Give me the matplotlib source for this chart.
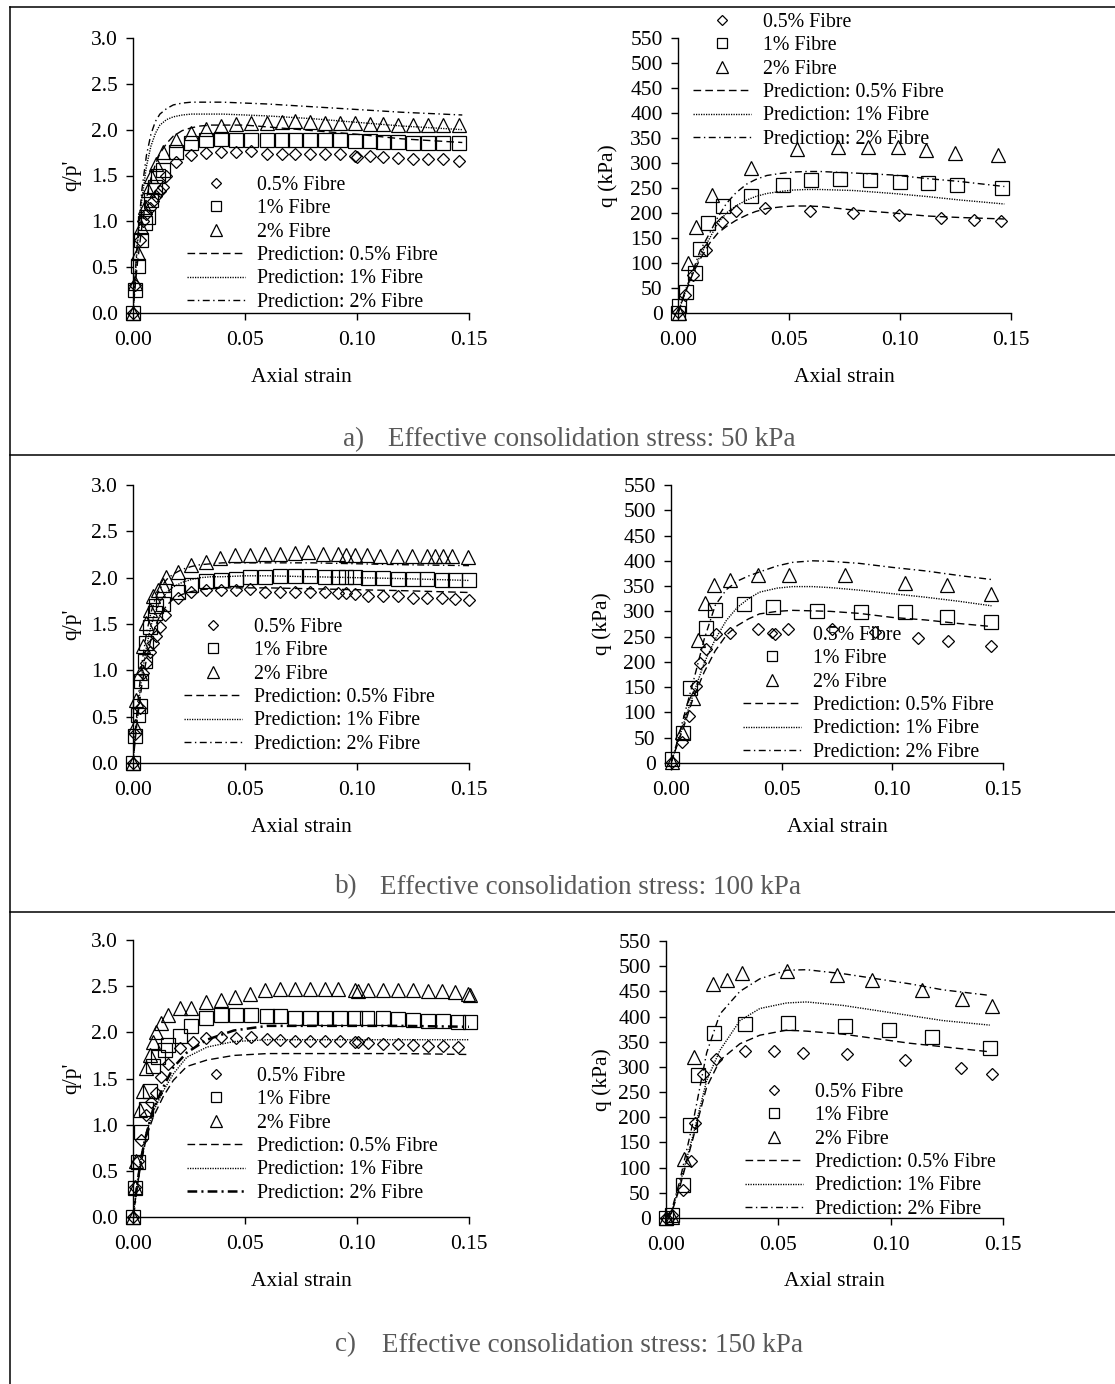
import matplotlib
matplotlib.use("Agg")
import matplotlib.pyplot as plt
from matplotlib.lines import Line2D

plt.rcParams['font.family'] = ['Liberation Serif', 'DejaVu Serif']
plt.rcParams['lines.scale_dashes'] = False

W, H = 1115, 1384

# ---------------- a) 50 kPa ----------------
a1_eps_05 = [0, 0.0007, 0.003, 0.0045, 0.006, 0.0074, 0.0089, 0.0104, 0.0119, 0.0134, 0.0149, 0.0194, 0.0261, 0.0328,
             0.0395, 0.0462, 0.0529, 0.0596, 0.0663, 0.0722, 0.0789, 0.0856, 0.0924, 0.0991, 0.0998, 0.1058, 0.1117,
             0.1184, 0.1251, 0.1318, 0.1385, 0.1455]
a1_val_05 = [0, 0.31, 0.80, 1.00, 1.08, 1.15, 1.22, 1.28, 1.33, 1.38, 1.50, 1.65, 1.72, 1.75, 1.76, 1.76, 1.77, 1.74,
             1.74, 1.74, 1.73, 1.73, 1.73, 1.71, 1.70, 1.71, 1.70, 1.69, 1.68, 1.68, 1.68, 1.66]
a1_eps_1 = [0, 0.0007, 0.0022, 0.0037, 0.0052, 0.0067, 0.0082, 0.0097, 0.0112, 0.0134, 0.0194, 0.0261, 0.0328, 0.0395,
            0.0462, 0.0529, 0.0596, 0.0663, 0.0722, 0.0789, 0.0856, 0.0924, 0.0991, 0.1058, 0.1117, 0.1184, 0.1251,
            0.1318, 0.1385, 0.1455]
a1_val_1 = [0, 0.25, 0.51, 0.80, 0.98, 1.05, 1.23, 1.38, 1.49, 1.56, 1.76, 1.85, 1.89, 1.90, 1.89, 1.89, 1.89, 1.89,
            1.89, 1.89, 1.89, 1.89, 1.88, 1.88, 1.87, 1.87, 1.86, 1.86, 1.86, 1.85]
a1_eps_2 = [0, 0.0007, 0.0022, 0.0037, 0.0052, 0.0067, 0.0082, 0.0104, 0.0134, 0.0194, 0.0261, 0.0328, 0.0395, 0.0462,
            0.0529, 0.0596, 0.0663, 0.0722, 0.0789, 0.0856, 0.0924, 0.0991, 0.1058, 0.1117, 0.1184, 0.1251, 0.1318,
            0.1385, 0.1455]
a1_val_2 = [0, 0.33, 0.65, 0.94, 1.16, 1.34, 1.49, 1.63, 1.76, 1.89, 1.96, 2.01, 2.04, 2.06, 2.07, 2.07, 2.08, 2.09,
            2.08, 2.07, 2.07, 2.07, 2.06, 2.06, 2.05, 2.05, 2.05, 2.05, 2.05]
a1_line_eps = [0, 0.001, 0.002, 0.004, 0.006, 0.008, 0.010, 0.012, 0.015, 0.018, 0.022, 0.026, 0.030, 0.035, 0.040,
               0.050, 0.060, 0.080, 0.100, 0.120, 0.147]
a1_pred_05 = [0, 0.30, 0.55, 0.95, 1.25, 1.47, 1.62, 1.74, 1.85, 1.93, 1.99, 2.02, 2.04, 2.05, 2.05, 2.05, 2.03, 1.99,
              1.95, 1.90, 1.86]
a1_pred_1 = [0, 0.40, 0.75, 1.25, 1.60, 1.82, 1.96, 2.05, 2.11, 2.14, 2.16, 2.17, 2.17, 2.17, 2.17, 2.16, 2.15, 2.12,
             2.08, 2.04, 2.00]
a1_pred_2 = [0, 0.42, 0.80, 1.35, 1.72, 1.95, 2.09, 2.17, 2.23, 2.27, 2.29, 2.30, 2.30, 2.30, 2.30, 2.29, 2.28, 2.25,
             2.22, 2.19, 2.16]

a2_eps_05 = [0, 0.003, 0.0068, 0.0128, 0.0196, 0.0263, 0.0391, 0.0594, 0.079, 0.0996, 0.1186, 0.1332, 0.1456]
a2_q_05 = [3, 37, 76, 126, 183, 204, 211, 204, 201, 196, 190, 186, 185]
a2_eps_1 = [0, 0.0003, 0.0038, 0.0075, 0.0101, 0.0135, 0.0203, 0.0328, 0.0471, 0.0597, 0.073, 0.0865, 0.1001, 0.1128,
            0.1259, 0.1459]
a2_q_1 = [0, 15, 43, 80, 128, 181, 214, 234, 257, 266, 268, 266, 263, 261, 257, 251]
a2_eps_2 = [0.0003, 0.0045, 0.0083, 0.0155, 0.0331, 0.0534, 0.0722, 0.0855, 0.0989, 0.1118, 0.1249, 0.1440]
a2_q_2 = [0, 100, 173, 237, 291, 328, 332, 332, 332, 326, 320, 316]
a2_line_eps = [0, 0.003, 0.0068, 0.010, 0.0143, 0.018, 0.0218, 0.026, 0.031, 0.035, 0.040, 0.046, 0.052, 0.058, 0.064,
               0.079, 0.097, 0.112, 0.127, 0.147]
a2_pred_05 = [0, 38, 80, 108, 140, 160, 173, 185, 196, 203, 209, 212, 214, 214, 213, 206, 200, 194, 191, 188]
a2_pred_1 = [0, 38, 80, 115, 150, 180, 200, 214, 226, 233, 239, 243, 246, 247, 247, 245, 239, 233, 226, 218]
a2_pred_2 = [0, 42, 85, 125, 160, 192, 219, 240, 258, 267, 275, 279, 282, 283, 283, 280, 276, 269, 263, 253]

# ---------------- b) 100 kPa ----------------
b1_eps_05 = [0, 0.0007, 0.003, 0.0045, 0.006, 0.0074, 0.0089, 0.0104, 0.0119, 0.0142, 0.0201, 0.0261, 0.0328, 0.0395,
             0.0462, 0.0521, 0.0588, 0.0655, 0.0722, 0.0789, 0.0856, 0.0916, 0.0953, 0.0991, 0.105, 0.1117, 0.1184,
             0.1251, 0.1311, 0.1378, 0.1437, 0.15]
b1_val_05 = [0, 0.31, 0.59, 0.97, 1.08, 1.20, 1.29, 1.37, 1.47, 1.60, 1.78, 1.85, 1.87, 1.87, 1.87, 1.88, 1.85, 1.84,
             1.84, 1.84, 1.84, 1.83, 1.83, 1.82, 1.80, 1.80, 1.80, 1.78, 1.78, 1.78, 1.77, 1.76]
b1_eps_1 = [0, 0.0007, 0.0022, 0.003, 0.0037, 0.0052, 0.006, 0.0074, 0.0097, 0.0104, 0.0134, 0.0201, 0.0261, 0.0328,
            0.0395, 0.0462, 0.0521, 0.0588, 0.0655, 0.0722, 0.0789, 0.0856, 0.0916, 0.0953, 0.0991, 0.105, 0.1117,
            0.1184, 0.1251, 0.1311, 0.1378, 0.1437, 0.15]
b1_val_1 = [0, 0.29, 0.52, 0.61, 0.88, 1.10, 1.29, 1.47, 1.62, 1.69, 1.72, 1.85, 1.92, 1.96, 1.98, 1.99, 2.01, 2.01,
            2.02, 2.02, 2.02, 2.01, 2.01, 2.01, 2.01, 2.00, 2.00, 1.99, 1.99, 1.99, 1.98, 1.98, 1.98]
b1_eps_2 = [0, 0.0007, 0.0015, 0.003, 0.0045, 0.006, 0.0074, 0.0089, 0.0112, 0.0134, 0.0149, 0.0201, 0.0261, 0.0328,
            0.0387, 0.0454, 0.0521, 0.0588, 0.0655, 0.0722, 0.0782, 0.0849, 0.0916, 0.0953, 0.0991, 0.1043, 0.1102,
            0.1177, 0.1244, 0.1311, 0.1348, 0.1385, 0.1423, 0.1497]
b1_val_2 = [0, 0.40, 0.68, 0.97, 1.26, 1.51, 1.65, 1.80, 1.87, 1.92, 2.01, 2.06, 2.14, 2.17, 2.21, 2.24, 2.25, 2.26,
            2.26, 2.27, 2.28, 2.26, 2.26, 2.25, 2.25, 2.25, 2.23, 2.23, 2.23, 2.23, 2.23, 2.23, 2.23, 2.22]
b1_line_eps = [0, 0.001, 0.002, 0.004, 0.006, 0.008, 0.010, 0.012, 0.015, 0.018, 0.022, 0.026, 0.030, 0.035, 0.040,
               0.050, 0.060, 0.080, 0.100, 0.120, 0.150]
b1_pred_05 = [0, 0.25, 0.48, 0.85, 1.12, 1.33, 1.48, 1.59, 1.70, 1.77, 1.82, 1.85, 1.87, 1.88, 1.89, 1.89, 1.89, 1.88,
              1.87, 1.86, 1.84]
b1_pred_1 = [0, 0.30, 0.55, 0.95, 1.25, 1.48, 1.63, 1.74, 1.84, 1.90, 1.95, 1.98, 2.00, 2.01, 2.01, 2.02, 2.02, 2.01,
             2.00, 1.99, 1.97]
b1_pred_2 = [0, 0.33, 0.62, 1.08, 1.40, 1.62, 1.78, 1.88, 1.98, 2.04, 2.09, 2.12, 2.14, 2.15, 2.16, 2.16, 2.16, 2.16,
             2.15, 2.14, 2.13]

b2_eps_05 = [0.0005, 0.005, 0.008, 0.0114, 0.0132, 0.0159, 0.0204, 0.0265, 0.0395, 0.047, 0.0528, 0.0726, 0.0921,
             0.1117, 0.1252, 0.1447]
b2_q_05 = [2, 42, 92, 152, 198, 226, 255, 258, 266, 255, 266, 266, 260, 248, 242, 232]
b2_eps_1 = [0.0005, 0.0054, 0.0087, 0.0158, 0.020, 0.0332, 0.0463, 0.0661, 0.0858, 0.1057, 0.1247, 0.1447]
b2_q_1 = [7, 59, 149, 267, 302, 314, 309, 301, 299, 298, 289, 278]
b2_eps_2 = [0.0005, 0.005, 0.0098, 0.0122, 0.0155, 0.0195, 0.0265, 0.0395, 0.0531, 0.0786, 0.1057, 0.1245, 0.1447]
b2_q_2 = [2, 61, 129, 243, 316, 352, 362, 372, 372, 372, 357, 353, 335]
b2_line_eps = [0, 0.003, 0.006, 0.010, 0.015, 0.020, 0.025, 0.030, 0.035, 0.040, 0.048, 0.055, 0.064, 0.072, 0.085,
               0.100, 0.115, 0.130, 0.1448]
b2_pred_05 = [0, 38, 75, 128, 180, 222, 253, 272, 285, 295, 300, 302, 301, 300, 296, 288, 283, 276, 270]
b2_pred_1 = [0, 40, 82, 135, 198, 245, 282, 308, 325, 338, 346, 349, 349, 347, 342, 335, 328, 320, 311]
b2_pred_2 = [0, 45, 95, 160, 245, 312, 343, 360, 370, 378, 390, 397, 400, 399, 395, 387, 380, 371, 363]

# ---------------- c) 150 kPa ----------------
c1_eps_05 = [0, 0.0007, 0.0022, 0.0037, 0.006, 0.0082, 0.0104, 0.0127, 0.0156, 0.0209, 0.0268, 0.0328, 0.0395, 0.0462,
             0.0529, 0.0596, 0.0655, 0.0722, 0.0789, 0.0856, 0.0924, 0.0991, 0.1005, 0.105, 0.1117, 0.1184, 0.1251,
             0.1318, 0.1385, 0.1452]
c1_val_05 = [0, 0.33, 0.61, 0.83, 1.10, 1.25, 1.34, 1.52, 1.66, 1.83, 1.89, 1.94, 1.95, 1.94, 1.95, 1.93, 1.92, 1.91,
             1.91, 1.91, 1.91, 1.90, 1.89, 1.88, 1.87, 1.87, 1.86, 1.85, 1.85, 1.84]
c1_eps_1 = [0, 0.0007, 0.0022, 0.0037, 0.006, 0.0074, 0.0089, 0.0112, 0.0142, 0.0156, 0.0209, 0.0261, 0.0328, 0.0395,
            0.0462, 0.0529, 0.0596, 0.0655, 0.0722, 0.0789, 0.0856, 0.0924, 0.0991, 0.1043, 0.1117, 0.1184, 0.1251,
            0.1318, 0.1385, 0.1452, 0.1504]
c1_val_1 = [0, 0.31, 0.60, 0.92, 1.17, 1.36, 1.63, 1.73, 1.81, 1.86, 1.96, 2.07, 2.15, 2.19, 2.19, 2.19, 2.18, 2.18,
            2.16, 2.16, 2.16, 2.16, 2.15, 2.15, 2.15, 2.14, 2.13, 2.12, 2.12, 2.11, 2.11]
c1_eps_2 = [0, 0.0007, 0.0015, 0.003, 0.0045, 0.006, 0.0074, 0.0089, 0.0104, 0.0127, 0.0156, 0.0209, 0.0261, 0.0328,
            0.0395, 0.0454, 0.0521, 0.0588, 0.0655, 0.0722, 0.0789, 0.0856, 0.0916, 0.0991, 0.1005, 0.105, 0.1117,
            0.1184, 0.1251, 0.1318, 0.1378, 0.1437, 0.1497, 0.1504]
c1_val_2 = [0, 0.33, 0.61, 1.16, 1.37, 1.61, 1.75, 1.90, 2.00, 2.10, 2.19, 2.26, 2.26, 2.33, 2.35, 2.38, 2.42, 2.46,
            2.47, 2.47, 2.47, 2.47, 2.47, 2.46, 2.45, 2.46, 2.46, 2.46, 2.46, 2.45, 2.45, 2.44, 2.42, 2.40]
c1_line_eps = [0, 0.002, 0.004, 0.006, 0.009, 0.0134, 0.018, 0.024, 0.033, 0.045, 0.06, 0.08, 0.10, 0.12, 0.15]
c1_pred_05 = [0, 0.35, 0.62, 0.87, 1.08, 1.30, 1.48, 1.63, 1.70, 1.75, 1.77, 1.77, 1.77, 1.77, 1.76]
c1_pred_1 = [0, 0.40, 0.70, 0.92, 1.14, 1.36, 1.55, 1.73, 1.84, 1.90, 1.92, 1.92, 1.92, 1.92, 1.92]
c1_pred_2 = [0, 0.38, 0.68, 0.90, 1.17, 1.40, 1.62, 1.78, 1.92, 2.02, 2.07, 2.07, 2.07, 2.07, 2.06]

c2_eps_05 = [0, 0.0025, 0.0074, 0.0111, 0.0129, 0.0166, 0.0222, 0.0351, 0.0482, 0.0611, 0.0806, 0.1063, 0.1315, 0.1451]
c2_q_05 = [0, 5, 56, 113, 189, 285, 315, 332, 332, 328, 325, 313, 298, 285]
c2_eps_1 = [0, 0.0025, 0.0077, 0.0107, 0.0144, 0.0213, 0.0351, 0.0541, 0.0796, 0.0992, 0.1186, 0.1444]
c2_q_1 = [0, 5, 65, 185, 283, 367, 386, 387, 381, 374, 359, 337]
c2_eps_2 = [0, 0.0025, 0.008, 0.0126, 0.0208, 0.0273, 0.034, 0.0537, 0.0763, 0.0918, 0.114, 0.1319, 0.1451]
c2_q_2 = [0, 2, 118, 320, 465, 473, 486, 490, 482, 472, 452, 435, 420]
c2_line_eps = [0, 0.0025, 0.0062, 0.0122, 0.0181, 0.024, 0.0329, 0.0418, 0.0537, 0.0626, 0.0789, 0.0937, 0.1085,
               0.1233, 0.1441]
c2_pred_05 = [0, 10, 62, 161, 260, 313, 346, 363, 373, 371, 365, 356, 347, 340, 330]
c2_pred_1 = [0, 12, 68, 167, 273, 333, 392, 416, 427, 429, 422, 412, 402, 392, 383]
c2_pred_2 = [0, 15, 75, 194, 328, 405, 450, 475, 492, 493, 485, 475, 465, 453, 442]

labels = ['0.5% Fibre', '1% Fibre', '2% Fibre',
          'Prediction: 0.5% Fibre', 'Prediction: 1% Fibre', 'Prediction: 2% Fibre']
captions = ['a)', 'b)', 'c)']
caption_texts = ['Effective consolidation stress: 50 kPa',
                 'Effective consolidation stress: 100 kPa',
                 'Effective consolidation stress: 150 kPa']

fig = plt.figure(figsize=(W / 100, H / 100), dpi=100)


def px_axes(l, t, r, b):
    return fig.add_axes([l / W, 1 - b / H, (r - l) / W, (b - t) / H])


DASH = (0, (5.5, 3))
DOT = (0, (0.9, 0.9))
DASHDOT = (0, (5, 2.5, 1, 2.5))
DASHDOT_BOLD = (0, (7, 3, 1.5, 3))


def draw_panel(ax, box, pts, lines, ylim, yticks, yfmt, ylabel, ylab_x, xlab_y, leg_xy, bold_dd=False):
    l, t, r, b = box
    handles = []
    for (ex, vy), mk, ms in zip(pts, ['D', 's', '^'], [6.6, 9.4, 10.5]):
        h, = ax.plot(ex, vy, ls='none', marker=mk, ms=ms, mfc='none', mec='black', mew=0.9, clip_on=False)
        handles.append(h)
    styles = [(DASH, 1.0), (DOT, 1.0), (DASHDOT_BOLD, 1.8) if bold_dd else (DASHDOT, 1.0)]
    ex = lines[0]
    for vy, (ls, lw) in zip(lines[1:], styles):
        h, = ax.plot(ex, vy, ls=ls, lw=lw, color='black')
        handles.append(h)
    ax.set_xlim(0, 0.15)
    ax.set_ylim(*ylim)
    ax.set_xticks([0, 0.05, 0.10, 0.15])
    ax.set_xticklabels(['0.00', '0.05', '0.10', '0.15'])
    ax.set_yticks(yticks)
    ax.set_yticklabels([yfmt.format(v) for v in yticks])
    for s in ['top', 'right']:
        ax.spines[s].set_visible(False)
    for s in ['left', 'bottom']:
        ax.spines[s].set_linewidth(1.0)
    ax.tick_params(axis='both', direction='out', length=5, width=1.0, labelsize=15.5)
    ax.tick_params(axis='x', pad=8)
    ax.tick_params(axis='y', pad=6)
    ax.set_xlabel('Axial strain', fontsize=15.5)
    ax.set_ylabel(ylabel, fontsize=15.5)
    ax.xaxis.set_label_coords(0.5, -(xlab_y - b) / (b - t))
    ax.xaxis.label.set_va('center')
    ax.yaxis.set_label_coords((ylab_x - l) / (r - l), 0.5)
    ax.yaxis.label.set_va('center')
    ax.legend(handles, labels, loc='upper left', bbox_to_anchor=(leg_xy[0] / W, 1 - leg_xy[1] / H),
              bbox_transform=fig.transFigure, frameon=False, borderpad=0, borderaxespad=0,
              handlelength=2.9, handletextpad=0.6, labelspacing=0.22, markerscale=0.78,
              prop={'size': 14.3})


layout = [
    # (l, t, r, b) in pixels
    ((133, 38, 469, 313), (678, 38, 1011, 313)),
    ((133, 485, 469, 763), (671, 485, 1003, 763)),
    ((133, 940, 469, 1217), (666, 941, 1003, 1218)),
]
left_data = [
    ([(a1_eps_05, a1_val_05), (a1_eps_1, a1_val_1), (a1_eps_2, a1_val_2)],
     (a1_line_eps, a1_pred_05, a1_pred_1, a1_pred_2)),
    ([(b1_eps_05, b1_val_05), (b1_eps_1, b1_val_1), (b1_eps_2, b1_val_2)],
     (b1_line_eps, b1_pred_05, b1_pred_1, b1_pred_2)),
    ([(c1_eps_05, c1_val_05), (c1_eps_1, c1_val_1), (c1_eps_2, c1_val_2)],
     (c1_line_eps, c1_pred_05, c1_pred_1, c1_pred_2)),
]
right_data = [
    ([(a2_eps_05, a2_q_05), (a2_eps_1, a2_q_1), (a2_eps_2, a2_q_2)],
     (a2_line_eps, a2_pred_05, a2_pred_1, a2_pred_2)),
    ([(b2_eps_05, b2_q_05), (b2_eps_1, b2_q_1), (b2_eps_2, b2_q_2)],
     (b2_line_eps, b2_pred_05, b2_pred_1, b2_pred_2)),
    ([(c2_eps_05, c2_q_05), (c2_eps_1, c2_q_1), (c2_eps_2, c2_q_2)],
     (c2_line_eps, c2_pred_05, c2_pred_1, c2_pred_2)),
]
left_leg = [(187, 176), (184, 618), (187, 1067)]
right_leg = [(693, 13), (743, 626), (745, 1083)]
xlab_ys = [378, 827, 1282]
ylab_right = [608, 602, 602]
cap_ys = [440, 887, 1345]
cap_x = [(343, 388), (335, 380), (335, 382)]

for i in range(3):
    lbox, rbox = layout[i]
    axl = px_axes(*lbox)
    draw_panel(axl, lbox, left_data[i][0], left_data[i][1], (0, 3.0), [0, 0.5, 1.0, 1.5, 2.0, 2.5, 3.0], '{:.1f}',
               "q/p'", 72, xlab_ys[i], left_leg[i], bold_dd=(i == 2))
    axr = px_axes(*rbox)
    draw_panel(axr, rbox, right_data[i][0], right_data[i][1], (0, 550), list(range(0, 551, 50)), '{:d}',
               'q (kPa)', ylab_right[i], xlab_ys[i], right_leg[i])
    fig.text(cap_x[i][0] / W, 1 - cap_ys[i] / H, captions[i], fontsize=19.5, color='#595959', va='center')
    fig.text(cap_x[i][1] / W, 1 - cap_ys[i] / H, caption_texts[i], fontsize=19.5, color='#595959', va='center')

# table frame
for yy in [7, 455, 912]:
    fig.add_artist(Line2D([10 / W, 1], [1 - yy / H, 1 - yy / H], transform=fig.transFigure, color='black', lw=1.1))
fig.add_artist(Line2D([10 / W, 10 / W], [1 - 7 / H, 0], transform=fig.transFigure, color='black', lw=1.1))

fig.savefig('out.png', dpi=100)
